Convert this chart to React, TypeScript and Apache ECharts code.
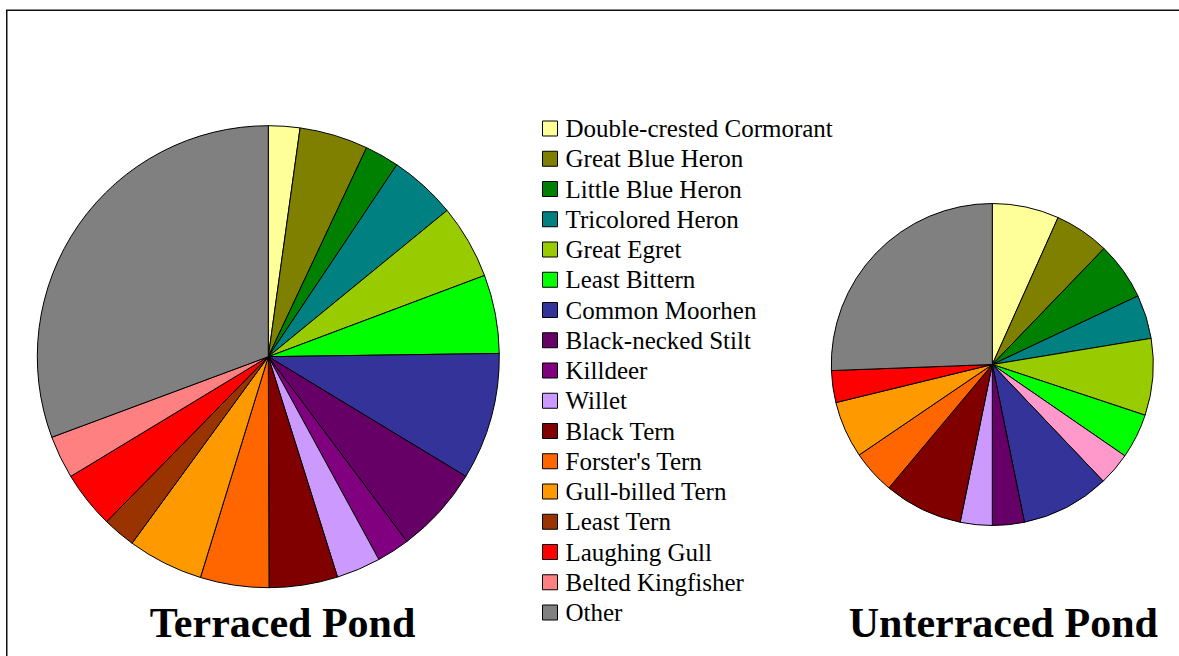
import React, { useEffect, useRef } from "react";
import * as echarts from "echarts";

const categories = [
  "Double-crested Cormorant",
  "Great Blue Heron",
  "Little Blue Heron",
  "Tricolored Heron",
  "Great Egret",
  "Least Bittern",
  "Common Moorhen",
  "Black-necked Stilt",
  "Killdeer",
  "Willet",
  "Black Tern",
  "Forster's Tern",
  "Gull-billed Tern",
  "Least Tern",
  "Laughing Gull",
  "Belted Kingfisher",
  "Other",
];

const colors = [
  "#FFFF99",
  "#808000",
  "#008000",
  "#008080",
  "#99CC00",
  "#00FF00",
  "#333399",
  "#660066",
  "#800080",
  "#CC99FF",
  "#800000",
  "#FF6600",
  "#FF9900",
  "#993300",
  "#FF0000",
  "#FF8080",
  "#808080",
];

// Percent shares
const terracedValues = [2.2, 4.8, 2.4, 4.7, 5.2, 5.5, 8.9, 6.1, 2.3, 3.1, 4.8, 4.8, 5.3, 2.3, 4.0, 3.0, 30.7];
const unterracedValues = [6.7, 5.5, 5.8, 4.4, 7.7, 4.5, 8.9, 3.2, 0, 3.2, 7.9, 4.4, 5.7, 0, 3.2, 0, 25.6];

// Extra slice in the unterraced pie (pink, not in legend), placed after Least Bittern
const extraName = "Unlisted species";
const extraColor = "#FF99CC";
const extraValue = 3.3;
const extraAfter = "Least Bittern";

const titles = ["Terraced Pond", "Unterraced Pond"];

export default function App() {
  const ref = useRef<HTMLDivElement>(null);
  useEffect(() => {
    if (!ref.current) return;
    const chart = echarts.init(ref.current, undefined, { renderer: "svg" });

    const leftData = categories.map((name, i) => ({
      name,
      value: terracedValues[i],
      itemStyle: { color: colors[i] },
    }));
    const rightData: any[] = [];
    categories.forEach((name, i) => {
      if (unterracedValues[i] > 0) {
        rightData.push({ name, value: unterracedValues[i], itemStyle: { color: colors[i] } });
      }
      if (name === extraAfter) {
        rightData.push({ name: extraName, value: extraValue, itemStyle: { color: extraColor } });
      }
    });

    const font = "'Liberation Serif', 'Times New Roman', serif";
    const pieCommon = {
      type: "pie",
      startAngle: 90,
      clockwise: true,
      label: { show: false },
      labelLine: { show: false },
      silent: true,
      emphasis: { disabled: true },
      itemStyle: { borderColor: "#000", borderWidth: 1 },
    };

    chart.setOption({
      animation: false,
      backgroundColor: "#fff",
      legend: {
        data: categories,
        orient: "vertical",
        left: 542,
        top: 116,
        height: 536,
        padding: 0,
        itemWidth: 15,
        itemHeight: 15,
        itemGap: 5.25,
        icon: "rect",
        selectedMode: false,
        itemStyle: { borderColor: "#000", borderWidth: 1 },
        textStyle: { fontFamily: font, fontSize: 25, color: "#000", padding: [0, 0, 0, 3] },
      },
      graphic: [
        {
          type: "rect",
          shape: { x: 6.75, y: 10.25, width: 1300, height: 800 },
          style: { fill: "none", stroke: "#111", lineWidth: 1.5 },
          silent: true,
        },
        {
          type: "text",
          x: 282.5,
          y: 622.5,
          style: {
            text: titles[0],
            fontFamily: font,
            fontSize: 42,
            fontWeight: "bold",
            fill: "#000",
            align: "center",
            verticalAlign: "middle",
          },
        },
        {
          type: "text",
          x: 1003.3,
          y: 622.5,
          style: {
            text: titles[1],
            fontFamily: font,
            fontSize: 42,
            fontWeight: "bold",
            fill: "#000",
            align: "center",
            verticalAlign: "middle",
          },
        },
      ],
      series: [
        { ...pieCommon, name: titles[0], center: [268.3, 356.7], radius: 231, data: leftData },
        { ...pieCommon, name: titles[1], center: [992.3, 364.5], radius: 161, data: rightData },
      ],
    });
    return () => chart.dispose();
  }, []);
  return (
    <div
      ref={ref}
      style={{ position: "fixed", left: 0, top: 0, width: 1179, height: 656 }}
    />
  );
}
